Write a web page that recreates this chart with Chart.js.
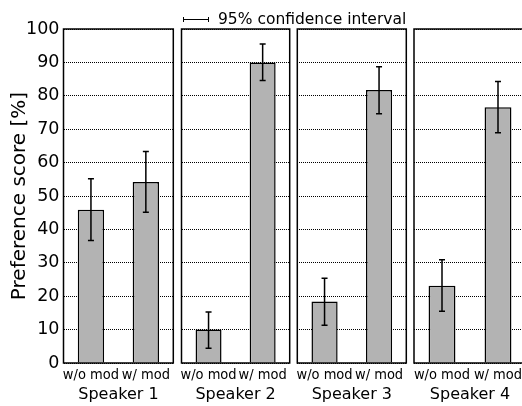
<!DOCTYPE html>
<html lang="en">
<head>
<meta charset="UTF-8">
<title>Preference score</title>
<script src="https://cdn.jsdelivr.net/npm/chart.js"></script>
<style>
  body { margin: 0; background: #fff; }
  #wrap { position: relative; width: 522px; height: 406px; overflow: hidden; font-family: 'DejaVu Sans', sans-serif; }
  #wrap canvas { position: absolute; top: 0; }
  .legend { position: absolute; left: 183px; top: 10px; font-size: 15.5px; color: #000; display: flex; align-items: center; white-space: nowrap; }
  .legend .icon { width: 26px; height: 5px; border-left: 1.5px solid #000; border-right: 1.5px solid #000; position: relative; margin-right: 9px; box-sizing: border-box; }
  .legend .icon::after { content: ''; position: absolute; left: 0; right: 0; top: 2px; border-top: 1px solid #000; }
</style>
</head>
<body>
<div id="wrap">
  <canvas id="c0" width="178" height="406" style="left:0px"></canvas>
  <canvas id="c1" width="117" height="406" style="left:177px"></canvas>
  <canvas id="c2" width="117" height="406" style="left:293px"></canvas>
  <canvas id="c3" width="140" height="406" style="left:410px"></canvas>
  <div class="legend"><span class="icon"></span>95% confidence interval</div>
</div>
<script>
  const conditions = ['w/o mod', 'w/ mod'];
  const speakers = ['Speaker 1', 'Speaker 2', 'Speaker 3', 'Speaker 4'];

  // mean preference score and 95% CI bounds per speaker
  const woMean = [45.9, 10.0, 18.4, 23.1];
  const woLow  = [36.7, 4.4, 11.3, 15.5];
  const woHigh = [55.2, 15.3, 25.4, 30.9];
  const wMean  = [54.2, 90.0, 81.7, 76.6];
  const wLow   = [45.1, 84.6, 74.6, 68.9];
  const wHigh  = [63.3, 95.5, 88.7, 84.3];

  const yTicks = [0, 10, 20, 30, 40, 50, 60, 70, 80, 90, 100];

  // canvas left edge, plot area left/right (page px); last panel runs off the page
  const panels = [
    { canvasLeft: 0,   width: 178, areaLeft: 63.5,  areaRight: 173.3 },
    { canvasLeft: 177, width: 117, areaLeft: 181.5, areaRight: 289.7 },
    { canvasLeft: 293, width: 117, areaLeft: 297.3, areaRight: 406.3 },
    { canvasLeft: 410, width: 140, areaLeft: 414,   areaRight: 526 }
  ];

  const errorBars = {
    id: 'errorBars',
    afterDatasetsDraw(chart, args, opts) {
      const i = opts.panel;
      const y = chart.scales.y;
      const meta = chart.getDatasetMeta(0);
      const ctx = chart.ctx;
      ctx.save();
      ctx.strokeStyle = '#000';
      ctx.lineWidth = 1.5;
      [[woLow, woHigh], [wLow, wHigh]].forEach(([lo, hi], j) => {
        const x = meta.data[j].x;
        const y0 = y.getPixelForValue(lo[i]);
        const y1 = y.getPixelForValue(hi[i]);
        ctx.beginPath();
        ctx.moveTo(x, y0); ctx.lineTo(x, y1);
        ctx.moveTo(x - 3, y0); ctx.lineTo(x + 3, y0);
        ctx.moveTo(x - 3, y1); ctx.lineTo(x + 3, y1);
        ctx.stroke();
      });
      // panel frame (the last one is cut by the page edge)
      const a = chart.chartArea;
      ctx.beginPath();
      ctx.moveTo(opts.openRight ? chart.width : a.right, a.top);
      ctx.lineTo(a.left, a.top);
      ctx.lineTo(a.left, a.bottom);
      ctx.lineTo(opts.openRight ? chart.width : a.right, a.bottom);
      if (!opts.openRight) ctx.closePath();
      ctx.stroke();
      ctx.restore();
    }
  };

  panels.forEach((p, i) => {
    const first = i === 0;
    const yWidth = first ? p.areaLeft - p.canvasLeft : 0;
    new Chart(document.getElementById('c' + i), {
      type: 'bar',
      data: {
        labels: conditions,
        datasets: [{
          data: [woMean[i], wMean[i]],
          backgroundColor: '#b3b3b3',
          borderColor: '#000',
          borderWidth: 1.5,
          categoryPercentage: 1,
          barPercentage: 0.48
        }]
      },
      options: {
        responsive: false,
        animation: false,
        devicePixelRatio: 1,
        layout: {
          padding: {
            top: 29,
            bottom: 0,
            left: first ? 0 : p.areaLeft - p.canvasLeft,
            right: p.canvasLeft + p.width - p.areaRight
          }
        },
        plugins: {
          legend: { display: false },
          tooltip: { enabled: false },
          errorBars: { panel: i, openRight: i === panels.length - 1 }
        },
        scales: {
          x: {
            grid: { display: false },
            border: { display: false },
            ticks: {
              color: '#000',
              font: { family: "'DejaVu Sans Condensed', 'DejaVu Sans'", size: 14.5 },
              padding: -4,
              autoSkip: false,
              maxRotation: 0,
              minRotation: 0
            },
            title: {
              display: true,
              text: speakers[i],
              color: '#000',
              font: { family: "'DejaVu Sans'", size: 16 },
              padding: { top: 0, bottom: 2 }
            },
            afterFit: (s) => { s.height = 43; }
          },
          y: {
            min: 0,
            max: 100,
            afterBuildTicks: (s) => { s.ticks = yTicks.map(v => ({ value: v })); },
            grid: { color: '#000', lineWidth: 1, drawTicks: false },
            border: { display: false, dash: [1, 1] },
            ticks: {
              display: first,
              color: '#000',
              font: { family: "'DejaVu Sans'", size: 17.5 },
              padding: 4
            },
            title: {
              display: first,
              text: 'Preference score [%]',
              color: '#000',
              font: { family: "'DejaVu Sans'", size: 20 },
              padding: { top: 8, bottom: 0 }
            },
            afterFit: (s) => { s.width = yWidth; }
          }
        }
      },
      plugins: [errorBars]
    });
  });
</script>
</body>
</html>
